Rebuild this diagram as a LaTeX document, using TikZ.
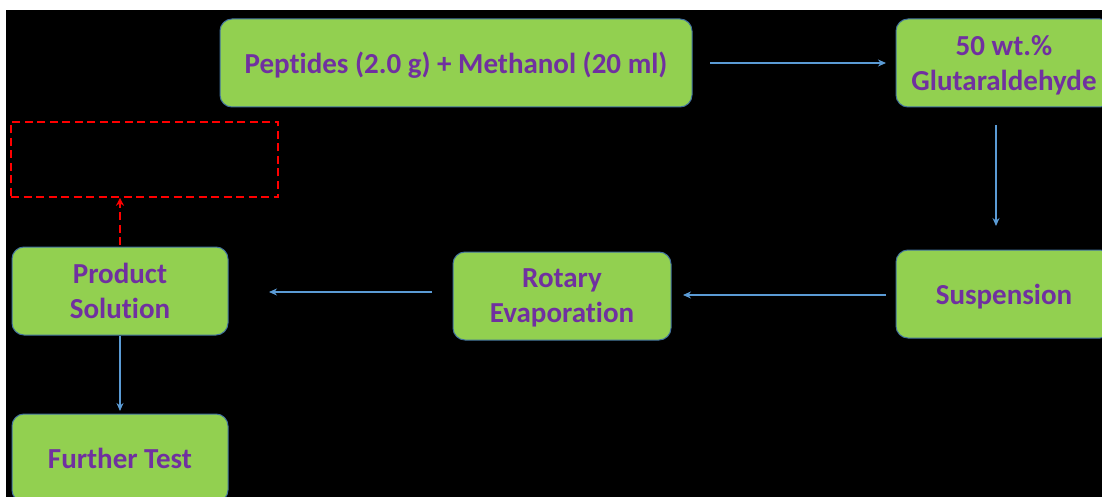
\documentclass[tikz,border=0pt]{standalone}
\usepackage{fontspec}
\setmainfont{Carlito}[Ligatures=NoCommon]
\usetikzlibrary{arrows.meta}
\definecolor{boxgreen}{HTML}{92D050}
\definecolor{txtpurple}{HTML}{7030A0}
\definecolor{boxedge}{HTML}{41719C}
\definecolor{arrblue}{HTML}{5B9BD5}
\tikzset{
  x=1pt, y=-1pt,
  stepbox/.style={draw=boxedge, line width=1pt, fill=boxgreen, rounded corners=12pt,
    text=txtpurple, align=center, inner sep=0pt, text depth=0pt,
    font={\fontsize{29}{35}\selectfont\bfseries}},
  flow/.style={draw=arrblue, line width=1.2pt, -{Stealth[length=8pt,width=7pt]}},
  reddash/.style={draw=red, line width=1.6pt, dash pattern=on 8pt off 4.5pt},
}
\begin{document}
\begin{tikzpicture}
\fill[white] (0,0) rectangle (1102,497);
\useasboundingbox (0,0) rectangle (1102,497);
\clip (0,0) rectangle (1102,497);
\fill[black] (6,10) rectangle (1102,497);

\node[stepbox, minimum width=472pt, minimum height=88pt] (pep) at (456,63) {Peptides (2.0 g) + Methanol (20 ml)};
\node[stepbox, minimum width=216pt, minimum height=88pt] (glu) at (1004,63) {50 wt.\%\\Glutaraldehyde};
\node[stepbox, minimum width=216pt, minimum height=88pt] (sus) at (1004,294) {Suspension};
\node[stepbox, minimum width=218pt, minimum height=88pt] (rot) at (562,296) {Rotary\\Evaporation};
\node[stepbox, minimum width=216pt, minimum height=88pt] (prod) at (120,291) {Product\\Solution};
\node[stepbox, minimum width=216pt, minimum height=88pt] (fur) at (120,458) {Further Test};
\node[reddash, minimum width=267pt, minimum height=75pt, inner sep=0pt] (res) at (144.5,159.5) {};

\coordinate (a1s) at (710,63);  \coordinate (a1e) at (886,63);
\draw[flow] (a1s) -- (a1e);
\coordinate (a2s) at (996,125); \coordinate (a2e) at (996,226);
\draw[flow] (a2s) -- (a2e);
\coordinate (a3s) at (886,295); \coordinate (a3e) at (683,295);
\draw[flow] (a3s) -- (a3e);
\coordinate (a4s) at (432,292); \coordinate (a4e) at (269,292);
\draw[flow] (a4s) -- (a4e);
\draw[flow] (prod.south) -- (120,411);
\draw[reddash, -{Stealth[length=8pt,width=8pt]}] (120,245) -- (res.south -| 120,0);
\end{tikzpicture}
\end{document}
